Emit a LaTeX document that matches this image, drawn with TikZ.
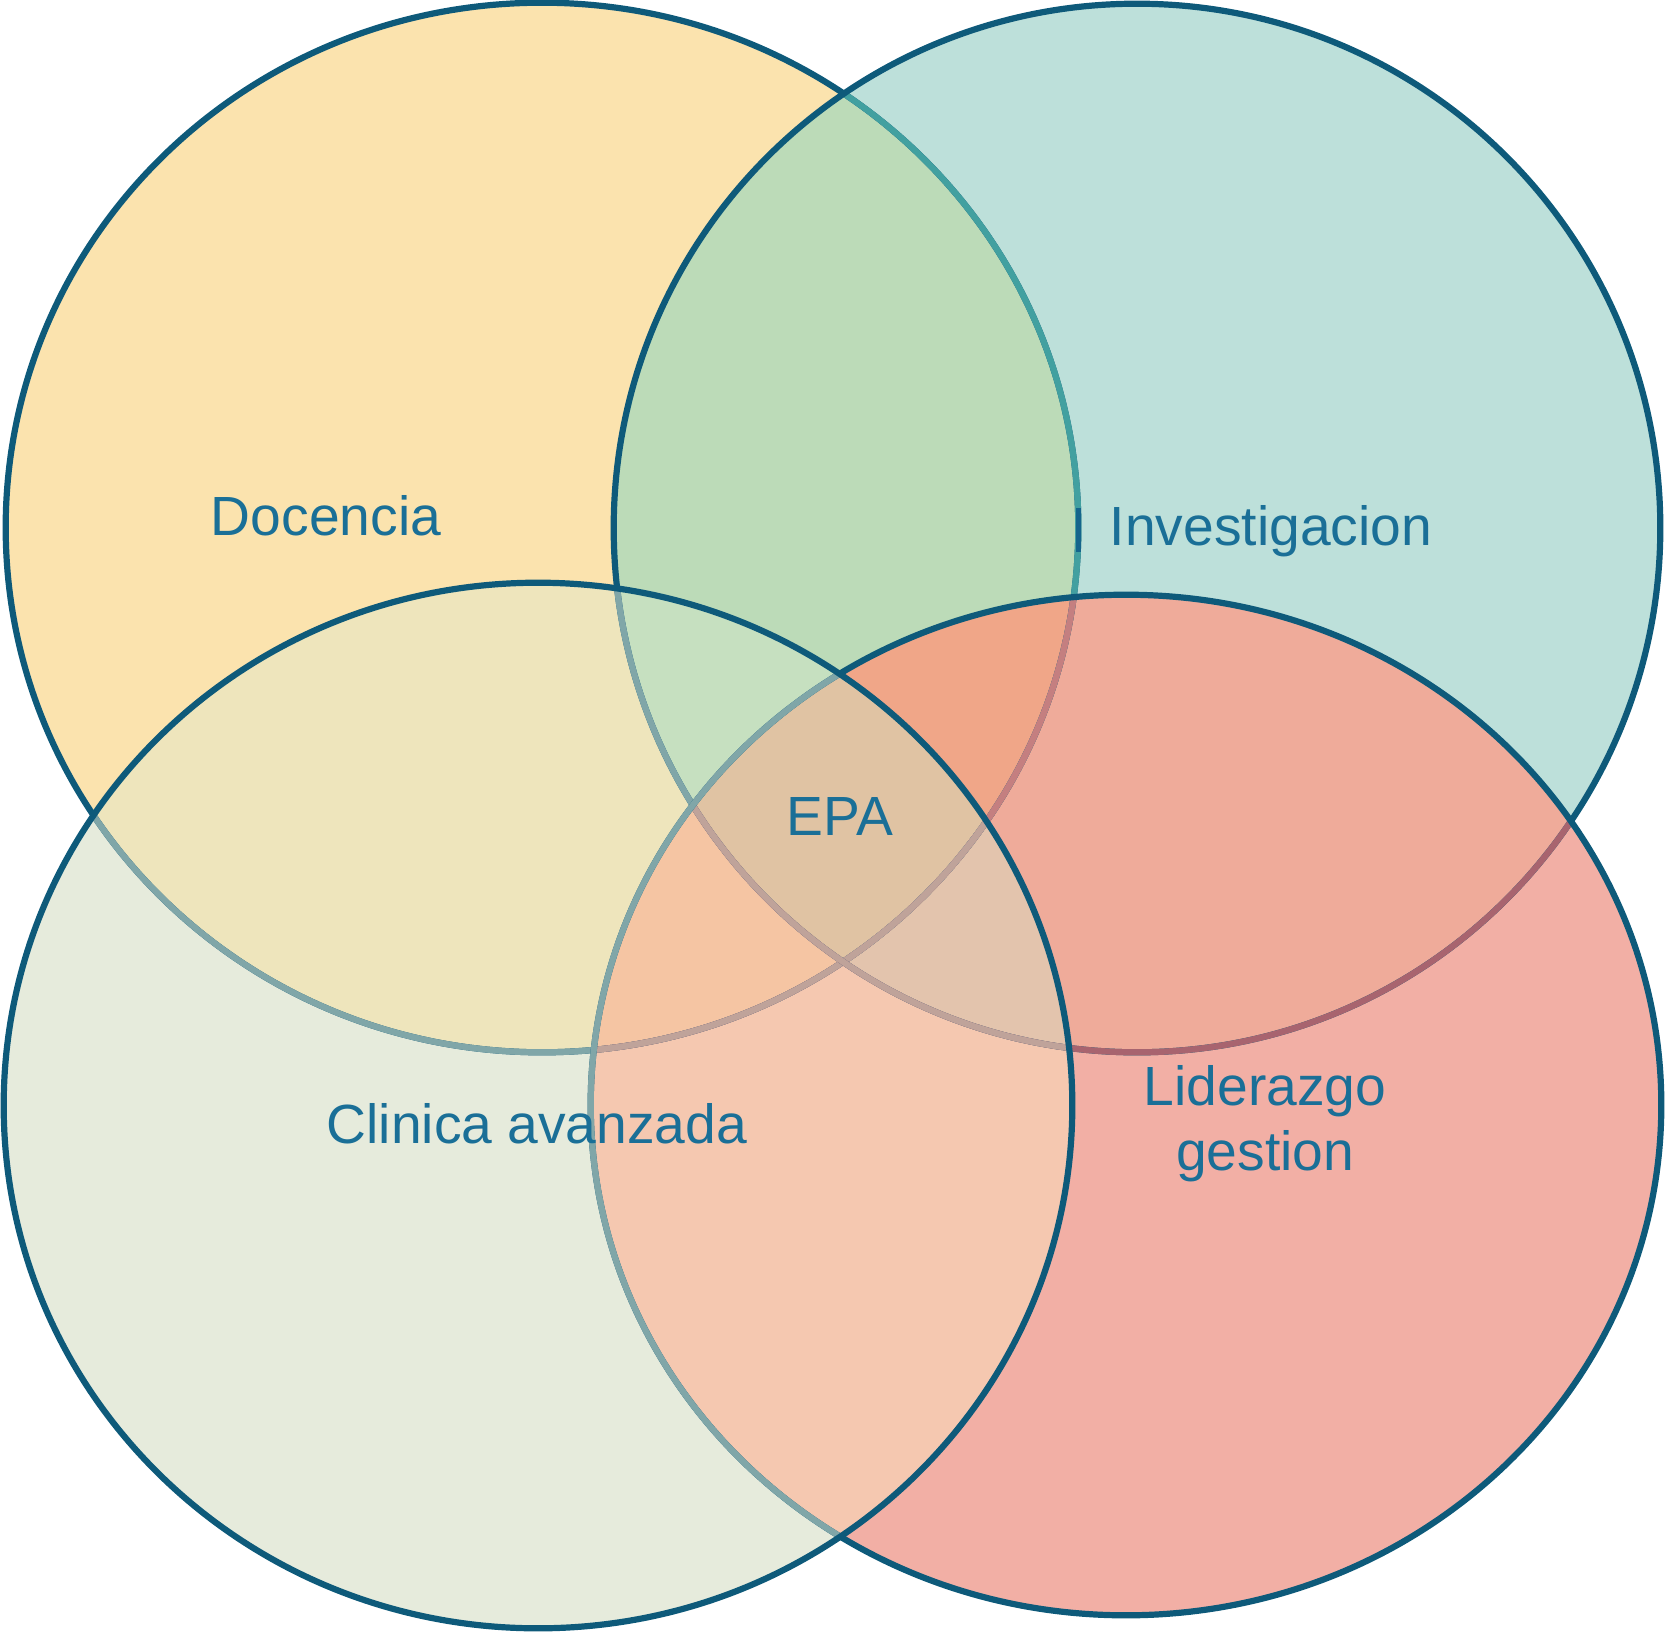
\documentclass[tikz,border=0pt]{standalone}
\usepackage{fontspec}
\setmainfont{Liberation Sans}
\definecolor{edge}{HTML}{0E5A7A}
\definecolor{txt}{HTML}{1A6F97}
\definecolor{fA}{HTML}{FBE3AE}
\definecolor{fB}{HTML}{BDE0DA}
\definecolor{fC}{HTML}{E6EBDC}
\definecolor{fD}{HTML}{F2AFA5}
\definecolor{fAB}{HTML}{BCDBB8}
\definecolor{fAC}{HTML}{EEE5BC}
\definecolor{fAD}{HTML}{F0A688}
\definecolor{fBC}{HTML}{C6E0C0}
\definecolor{fBD}{HTML}{EFAB9A}
\definecolor{fCD}{HTML}{F5C8B0}
\definecolor{fABC}{HTML}{C6E0C0}
\definecolor{fABD}{HTML}{F0A688}
\definecolor{fACD}{HTML}{F5C5A3}
\definecolor{fBCD}{HTML}{E3C4AD}
\definecolor{fABCD}{HTML}{E0C3A3}
\definecolor{sunderB}{HTML}{42A0A0}
\definecolor{sunderC}{HTML}{80A6A8}
\definecolor{sunderD}{HTML}{A8646F}
\definecolor{sunderBD}{HTML}{C47F80}
\definecolor{sunderCD}{HTML}{BFA39A}
\definecolor{sbar}{HTML}{15658C}
\tikzset{
  cA/.style={insert path={(542,-527.5) ellipse [x radius=5.36cm, y radius=5.245cm]}},
  cB/.style={insert path={(1137,-528) ellipse [x radius=5.23cm, y radius=5.24cm]}},
  cC/.style={insert path={(538,-1105.5) ellipse [x radius=5.34cm, y radius=5.225cm]}},
  cD/.style={insert path={(1126,-1105) ellipse [x radius=5.35cm, y radius=5.10cm]}},
  ring/.style={line width=0.062cm},
  lbl/.style={text=txt, font=\fontsize{15.7}{18}\selectfont, anchor=base, inner sep=0pt}
}
\begin{document}
\begin{tikzpicture}[x=0.01cm, y=0.01cm]
\useasboundingbox (0,0) rectangle (1667,-1633);
% single fills
\fill[fA, cA];
\fill[fB, cB];
\fill[fC, cC];
\fill[fD, cD];
% pairs
\begin{scope}\clip[cA]; \fill[fAB, cB];\end{scope}
\begin{scope}\clip[cA]; \fill[fAC, cC];\end{scope}
\begin{scope}\clip[cA]; \fill[fAD, cD];\end{scope}
\begin{scope}\clip[cB]; \fill[fBC, cC];\end{scope}
\begin{scope}\clip[cB]; \fill[fBD, cD];\end{scope}
\begin{scope}\clip[cC]; \fill[fCD, cD];\end{scope}
% triples
\begin{scope}\clip[cA]; \clip[cB]; \fill[fABC, cC];\end{scope}
\begin{scope}\clip[cA]; \clip[cB]; \fill[fABD, cD];\end{scope}
\begin{scope}\clip[cA]; \clip[cC]; \fill[fACD, cD];\end{scope}
\begin{scope}\clip[cB]; \clip[cC]; \fill[fBCD, cD];\end{scope}
% quadruple
\begin{scope}\clip[cA]; \clip[cB]; \clip[cC]; \fill[fABCD, cD];\end{scope}
% stroke A (bottom layer)
\draw[edge, ring, cA];
\begin{scope}\clip[cB]; \draw[sunderB, ring, cA];\end{scope}
\begin{scope}\clip[cC]; \draw[sunderC, ring, cA];\end{scope}
\begin{scope}\clip[cD]; \draw[sunderD, ring, cA];\end{scope}
\begin{scope}\clip[cB]; \clip[cC]; \draw[sunderC, ring, cA];\end{scope}
\begin{scope}\clip[cB]; \clip[cD]; \draw[sunderBD, ring, cA];\end{scope}
\begin{scope}\clip[cC]; \clip[cD]; \draw[sunderCD, ring, cA];\end{scope}
\draw[sbar, line width=0.05cm] (1078,-508) -- (1078,-552);
% stroke B
\draw[edge, ring, cB];
\begin{scope}\clip[cC]; \draw[sunderC, ring, cB];\end{scope}
\begin{scope}\clip[cD]; \draw[sunderD, ring, cB];\end{scope}
\begin{scope}\clip[cC]; \clip[cD]; \draw[sunderCD, ring, cB];\end{scope}
% stroke D
\draw[edge, ring, cD];
\begin{scope}\clip[cC]; \draw[sunderC, ring, cD];\end{scope}
% stroke C (top layer)
\draw[edge, ring, cC];
% labels
\node[lbl] (docencia) at (326,-535) {Docencia};
\node[lbl] (investigacion) at (1271,-545) {Investigacion};
\node[lbl] (epa) at (840,-835) {EPA};
\node[lbl] (clinica) at (537,-1143) {Clinica avanzada};
\node[lbl] (liderazgo) at (1265,-1105) {Liderazgo};
\node[lbl] (gestion) at (1265,-1170) {gestion};
\end{tikzpicture}
\end{document}
